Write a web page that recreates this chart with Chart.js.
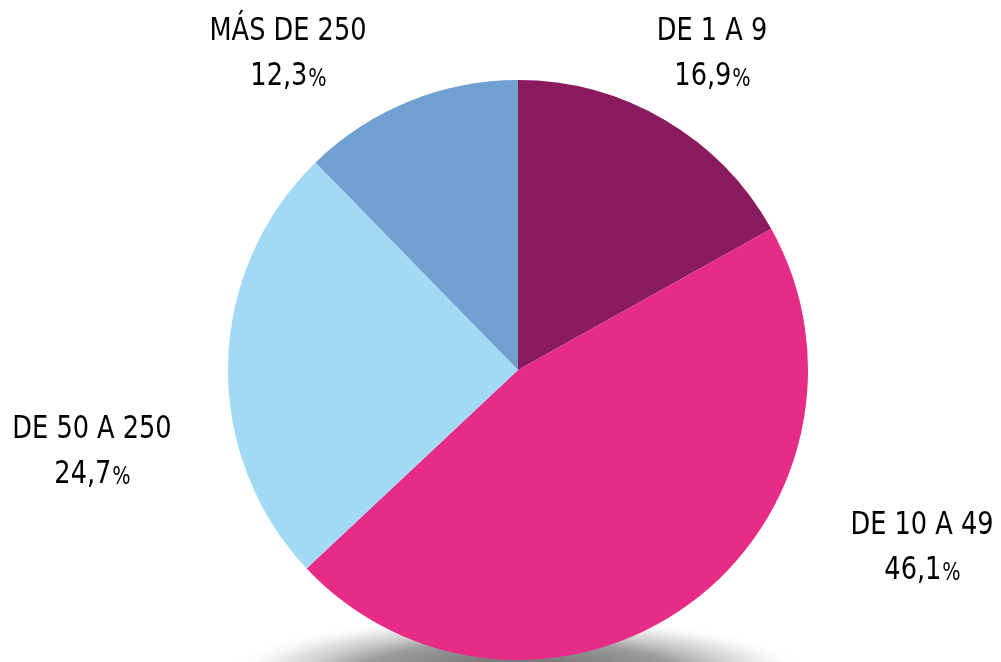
<!DOCTYPE html>
<html lang="es">

<head>
    <meta charset="UTF-8" />
    <title>Empresas por tamaño</title>
    <script src="https://cdn.jsdelivr.net/npm/chart.js"></script>
    <style>
        html, body { margin: 0; padding: 0; background: #fff; }
        #wrap { width: 1001px; height: 662px; }
    </style>
</head>

<body>
    <div id="wrap"><canvas id="myChart"></canvas></div>

    <script>
        // data
        const categories = ["DE 1 A 9", "DE 10 A 49", "DE 50 A 250", "MÁS DE 250"];
        const values = [16.9, 46.1, 24.7, 12.3];
        const valueLabels = ["16,9", "46,1", "24,7", "12,3"];

        const colors = ["#8b1b5f", "#e62c87", "#a3daf3", "#6fa0d0"];
        // label centres (x, y of first line)
        const labelPos = [[712, 32], [922, 526], [92, 430], [288, 32]];

        const FONT = "'DejaVu Sans Condensed', 'Liberation Sans Narrow', sans-serif";
        const SQUEEZE = 0.89;

        // soft shadow under the pie
        const shadowPlugin = {
            id: "shadow",
            beforeDatasetsDraw(chart) {
                const ctx = chart.ctx;
                const arc = chart.getDatasetMeta(0).data[0];
                const cx = arc.x, cy = arc.y + arc.outerRadius + 14;
                ctx.save();
                ctx.translate(cx, cy);
                ctx.scale(1, 0.2);
                const g = ctx.createRadialGradient(0, 0, 0, 0, 0, 295);
                g.addColorStop(0, "rgba(95,95,95,1)");
                g.addColorStop(0.55, "rgba(145,145,145,0.9)");
                g.addColorStop(0.8, "rgba(200,200,200,0.55)");
                g.addColorStop(1, "rgba(255,255,255,0)");
                ctx.fillStyle = g;
                ctx.beginPath();
                ctx.arc(0, 0, 295, 0, Math.PI * 2);
                ctx.fill();
                ctx.restore();
            }
        };

        const labelPlugin = {
            id: "outLabels",
            afterDatasetsDraw(chart) {
                const ctx = chart.ctx;
                ctx.save();
                ctx.fillStyle = "#000";
                ctx.textBaseline = "middle";
                categories.forEach((c, i) => {
                    const [x, y] = labelPos[i];
                    ctx.save();
                    ctx.translate(x, y);
                    ctx.scale(SQUEEZE, 1);
                    ctx.font = "32px " + FONT;
                    ctx.textAlign = "center";
                    ctx.fillText(c, 0, 0);
                    // value with smaller percent sign
                    const num = valueLabels[i];
                    const wNum = ctx.measureText(num).width;
                    ctx.font = "24px " + FONT;
                    const wPct = ctx.measureText("%").width;
                    const left = -(wNum + wPct) / 2;
                    ctx.textAlign = "left";
                    ctx.font = "32px " + FONT;
                    ctx.fillText(num, left, 45);
                    ctx.font = "24px " + FONT;
                    ctx.fillText("%", left + wNum + 1, 48);
                    ctx.restore();
                });
                ctx.restore();
            }
        };

        const config = {
            type: "pie",
            data: {
                labels: categories,
                datasets: [{
                    data: values,
                    backgroundColor: colors,
                    borderWidth: 0,
                }],
            },
            options: {
                responsive: true,
                maintainAspectRatio: false,
                animation: false,
                layout: { padding: { top: 80, bottom: 2, left: 228, right: 193 } },
                plugins: {
                    legend: { display: false },
                    tooltip: { enabled: false },
                },
            },
            plugins: [shadowPlugin, labelPlugin],
        };

        const myChart = new Chart(document.getElementById("myChart"), config);
    </script>
</body>

</html>
